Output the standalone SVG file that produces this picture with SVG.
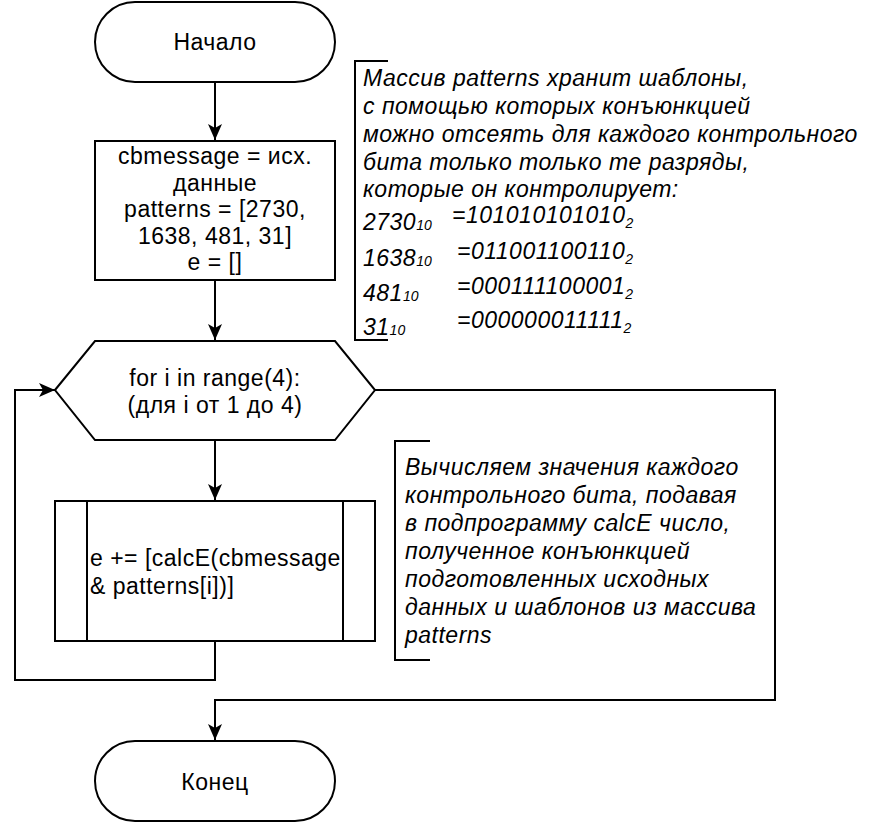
<svg xmlns="http://www.w3.org/2000/svg" width="880" height="824" viewBox="0 0 880 824">
<style>
.s{fill:#fff;stroke:#000;stroke-width:2}
.l{fill:none;stroke:#000;stroke-width:2}
.t{font-family:"Liberation Sans",Arial,sans-serif;font-size:23px;letter-spacing:0.5px;fill:#000}
.c{text-anchor:middle}
.i{font-style:italic}
.sub{font-size:14px;letter-spacing:0}
</style>
<defs>
<marker id="a" viewBox="0 0 16 14" refX="16" refY="7" markerWidth="16" markerHeight="14" markerUnits="userSpaceOnUse" orient="auto">
<path d="M0,0 L16,7 L0,14 L4,7 Z" fill="#000"/>
</marker>
</defs>
<rect width="880" height="824" fill="#fff"/>
<g id="connectors">
<path class="l" d="M215,82 V140" marker-end="url(#a)"/>
<path class="l" d="M215,280 V340" marker-end="url(#a)"/>
<path class="l" d="M215,441 V500" marker-end="url(#a)"/>
<path class="l" d="M215,641 V680 H15 V390 H55" marker-end="url(#a)"/>
<path class="l" d="M375,390 H775 V700 H215 V740" marker-end="url(#a)"/>
</g>
<g id="start">
<rect class="s" x="95" y="2" width="240" height="80" rx="40" ry="40"/>
<text class="t c" x="215" y="50">Начало</text>
</g>
<g id="init">
<rect class="s" x="95" y="141" width="240" height="139"/>
<text class="t c" x="215" y="164">cbmessage = исх.</text>
<text class="t c" x="215" y="190.5">данные</text>
<text class="t c" x="215" y="217">patterns = [2730,</text>
<text class="t c" x="215" y="243.5">1638, 481, 31]</text>
<text class="t c" x="215" y="270">e = []</text>
</g>
<g id="note1">
<path class="l" d="M388,61 H355 V340 H388"/>
<text class="t i" x="363" y="86">Массив patterns хранит шаблоны,</text>
<text class="t i" x="363" y="113.5">с помощью которых конъюнкцией</text>
<text class="t i" x="363" y="141.5">можно отсеять для каждого контрольного</text>
<text class="t i" x="363" y="169.5">бита только только те разряды,</text>
<text class="t i" x="363" y="197">которые он контролирует:</text>
<text class="t i" x="363" y="230">2730<tspan class="sub">10</tspan></text>
<text class="t i" x="452" y="223">=101010101010<tspan class="sub" dy="5">2</tspan></text>
<text class="t i" x="363" y="266">1638<tspan class="sub">10</tspan></text>
<text class="t i" x="457" y="259">=011001100110<tspan class="sub" dy="5">2</tspan></text>
<text class="t i" x="363" y="301">481<tspan class="sub">10</tspan></text>
<text class="t i" x="457" y="294">=000111100001<tspan class="sub" dy="5">2</tspan></text>
<text class="t i" x="363" y="335">31<tspan class="sub">10</tspan></text>
<text class="t i" x="457" y="328">=000000011111<tspan class="sub" dy="5">2</tspan></text>
</g>
<g id="loop">
<polygon class="s" points="55,390 95,341 335,341 375,390 335,440 95,440"/>
<text class="t c" x="215" y="386">for i in range(4):</text>
<text class="t c" x="215" y="413">(для i от 1 до 4)</text>
</g>
<g id="calc">
<rect class="s" x="55" y="501" width="320" height="140"/>
<path class="l" d="M87,501 V641 M343,501 V641"/>
<text class="t" x="90" y="566">e += [calcE(cbmessage</text>
<text class="t" x="90" y="594">&amp; patterns[i])]</text>
</g>
<g id="note2">
<path class="l" d="M430,441 H395 V660 H430"/>
<text class="t i" x="405" y="475">Вычисляем значения каждого</text>
<text class="t i" x="405" y="503">контрольного бита, подавая</text>
<text class="t i" x="405" y="531">в подпрограмму calcE число,</text>
<text class="t i" x="405" y="559">полученное конъюнкцией</text>
<text class="t i" x="405" y="587">подготовленных исходных</text>
<text class="t i" x="405" y="615">данных и шаблонов из массива</text>
<text class="t i" x="405" y="643">patterns</text>
</g>
<g id="end">
<rect class="s" x="95" y="741" width="240" height="80" rx="40" ry="40"/>
<text class="t c" x="215" y="790">Конец</text>
</g>
</svg>
